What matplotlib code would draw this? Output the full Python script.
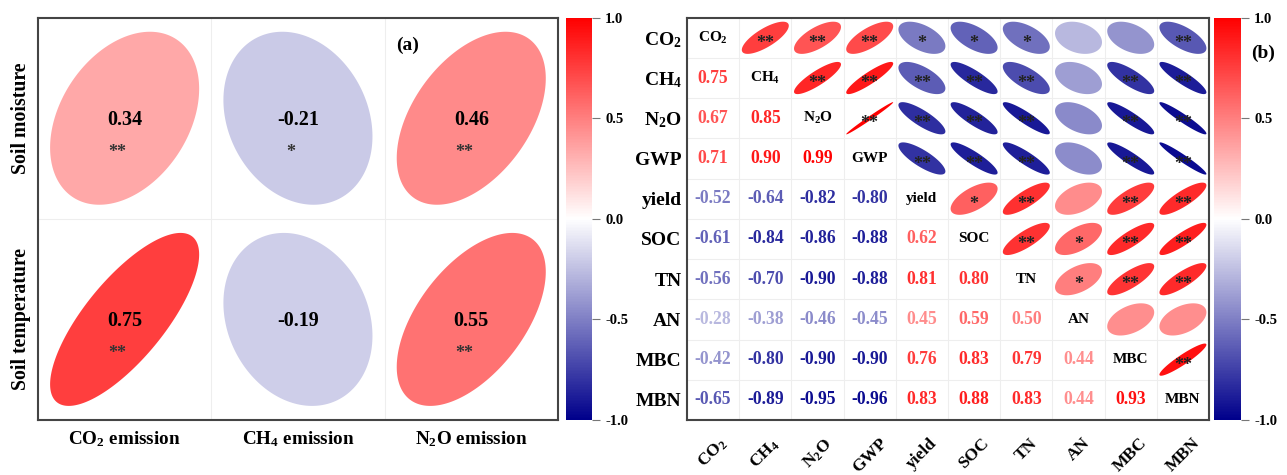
import numpy as np
import matplotlib
matplotlib.use("Agg")
import matplotlib.pyplot as plt
from matplotlib.colors import LinearSegmentedColormap, Normalize
from matplotlib.patches import Polygon
from matplotlib.cm import ScalarMappable

plt.rcParams["font.family"] = ["Liberation Serif", "DejaVu Serif"]
plt.rcParams["font.weight"] = "bold"
plt.rcParams["mathtext.fontset"] = "custom"
plt.rcParams["mathtext.rm"] = "Liberation Serif:bold"
plt.rcParams["mathtext.it"] = "Liberation Serif:bold:italic"
plt.rcParams["mathtext.bf"] = "Liberation Serif:bold"

# ---- panel (a) data ----
a_rows = ["Soil moisture", "Soil temperature"]
a_cols = ["CO$_2$ emission", "CH$_4$ emission", "N$_2$O emission"]
a_r = [[0.34, -0.21, 0.46],
       [0.75, -0.19, 0.55]]
a_sig = [["**", "*", "**"],
         ["**", "", "**"]]

# ---- panel (b) data ----
b_vars = ["CO$_2$", "CH$_4$", "N$_2$O", "GWP", "yield", "SOC", "TN", "AN", "MBC", "MBN"]
b_lower = [
    [],
    [0.75],
    [0.67, 0.85],
    [0.71, 0.90, 0.99],
    [-0.52, -0.64, -0.82, -0.80],
    [-0.61, -0.84, -0.86, -0.88, 0.62],
    [-0.56, -0.70, -0.90, -0.88, 0.81, 0.80],
    [-0.28, -0.38, -0.46, -0.45, 0.45, 0.59, 0.50],
    [-0.42, -0.80, -0.90, -0.90, 0.76, 0.83, 0.79, 0.44],
    [-0.65, -0.89, -0.95, -0.96, 0.83, 0.88, 0.83, 0.44, 0.93],
]
# significance for upper triangle, row i, columns i+1..9
b_sig = [
    ["**", "**", "**", "*", "*", "*", "", "", "**"],
    ["**", "**", "**", "**", "**", "", "**", "**"],
    ["**", "**", "**", "**", "", "**", "**"],
    ["**", "**", "**", "", "**", "**"],
    ["*", "**", "", "**", "**"],
    ["**", "*", "**", "**"],
    ["*", "**", "**"],
    ["", ""],
    ["**"],
    [],
]

cmap = LinearSegmentedColormap.from_list("bwr2", ["#00008B", "#FFFFFF", "#FF0000"])
norm = Normalize(-1, 1)


def ellipse(ax, r, cx, cy, sx, sy):
    t = np.linspace(0, 2 * np.pi, 200)
    d = np.arccos(np.clip(r, -1, 1))
    x = cx + sx * np.cos(t + d / 2)
    y = cy + sy * np.cos(t - d / 2)
    ax.add_patch(Polygon(np.column_stack([x, y]), closed=True,
                         facecolor=cmap(norm(r)), edgecolor="none", zorder=2))


def frame(ax):
    for s in ax.spines.values():
        s.set_color("#444444")
        s.set_linewidth(1.5)
    ax.tick_params(length=0)


def colorbar(fig, rect):
    cax = fig.add_axes(rect)
    cb = fig.colorbar(ScalarMappable(norm=norm, cmap=cmap), cax=cax)
    cb.outline.set_visible(False)
    cb.set_ticks([-1, -0.5, 0, 0.5, 1])
    cb.set_ticklabels(["-1.0", "-0.5", "0.0", "0.5", "1.0"])
    cax.tick_params(length=5.5, width=0.8, color="#777777", labelsize=10.5, pad=4)
    for lab in cax.get_yticklabels():
        lab.set_fontweight("bold")
    return cax


fig = plt.figure(figsize=(12.87, 4.75), dpi=100)

# ---------------- panel (a) ----------------
axa = fig.add_axes([0.0295, 0.1158, 0.4040, 0.847])
na_r, na_c = len(a_rows), len(a_cols)
for i in range(na_r):
    for j in range(na_c):
        cy = na_r - 1 - i
        ellipse(axa, a_r[i][j], j, cy, 0.43, 0.43)
        axa.text(j, cy - 0.01, "%.2f" % a_r[i][j], ha="center", va="center",
                 fontsize=14.5, fontweight="bold", color="black", zorder=3)
        if a_sig[i][j]:
            axa.text(j - 0.04, cy - 0.17, a_sig[i][j], ha="center", va="center",
                     fontsize=13, color="#333333", zorder=3)
for k in range(1, na_c):
    axa.axvline(k - 0.5, color="#eeeeee", lw=0.8, zorder=1)
for k in range(1, na_r):
    axa.axhline(k - 0.5, color="#eeeeee", lw=0.8, zorder=1)
axa.set_xlim(-0.5, na_c - 0.5)
axa.set_ylim(-0.5, na_r - 0.5)
axa.set_xticks(range(na_c))
axa.set_xticklabels(a_cols, fontsize=13.8, fontweight="bold")
axa.set_yticks([na_r - 1 - i for i in range(na_r)])
axa.set_yticklabels(a_rows, fontsize=14.2, fontweight="bold", rotation=90, va="center")
axa.tick_params(axis="x", pad=7)
axa.tick_params(axis="y", pad=5)
frame(axa)
axa.text(1.635, 1.363, "(a)", ha="center", va="center", fontsize=14, fontweight="bold")

colorbar(fig, [0.4398, 0.1158, 0.0202, 0.847])

# ---------------- panel (b) ----------------
axb = fig.add_axes([0.5338, 0.1158, 0.4056, 0.847])
n = len(b_vars)
for i in range(n):
    cy = n - 1 - i
    for j in range(n):
        if j < i:
            r = b_lower[i][j]
            axb.text(j, cy, "%.2f" % r, ha="center", va="center", fontsize=12.7,
                     fontweight="bold", color=cmap(norm(r)), zorder=3)
        elif j == i:
            axb.text(j, cy, b_vars[i], ha="center", va="center", fontsize=11,
                     fontweight="bold", color="black", zorder=3)
        else:
            r = b_lower[j][i]
            ellipse(axb, r, j, cy, 0.45, 0.40)
            s = b_sig[i][j - i - 1]
            if s:
                axb.text(j, cy - 0.14, s, ha="center", va="center", fontsize=13,
                         color="#222222", zorder=3)
for k in range(1, n):
    axb.axvline(k - 0.5, color="#eeeeee", lw=0.8, zorder=1)
    axb.axhline(k - 0.5, color="#eeeeee", lw=0.8, zorder=1)
axb.set_xlim(-0.5, n - 0.5)
axb.set_ylim(-0.5, n - 0.5)
axb.set_xticks(range(n))
axb.set_xticklabels(b_vars, fontsize=12.5, fontweight="bold", rotation=45,
                    ha="center", va="top")
axb.set_yticks([n - 1 - i for i in range(n)])
axb.set_yticklabels(b_vars, fontsize=14, fontweight="bold")
axb.tick_params(axis="x", pad=11)
axb.tick_params(axis="y", pad=4)
frame(axb)

colorbar(fig, [0.9433, 0.1158, 0.021, 0.847])
fig.text(0.9814, 0.888, "(b)", ha="center", va="center", fontsize=14, fontweight="bold")

fig.savefig("out.png", dpi=100)
